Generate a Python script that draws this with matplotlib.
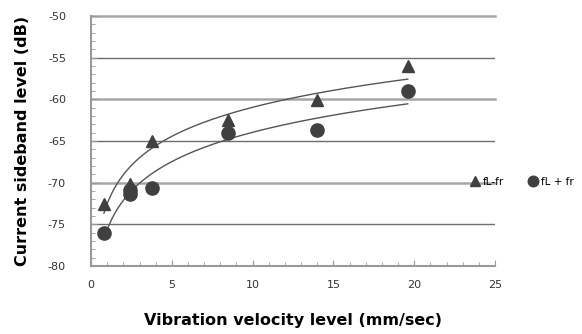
import numpy as np
import matplotlib
matplotlib.use("Agg")
import matplotlib.pyplot as plt
from matplotlib.ticker import MultipleLocator

plt.rcParams["axes.unicode_minus"] = False

# data
x_lo = [0.8, 2.4, 3.8, 8.5, 14.0, 19.6]          # fL-fr
y_lo = [-72.5, -70.1, -65.0, -62.5, -60.1, -56.0]
x_hi = [0.8, 2.4, 2.4, 3.8, 8.5, 14.0, 19.6]     # fL + fr
y_hi = [-76.0, -70.9, -71.4, -70.6, -64.0, -63.7, -59.0]

mk_col = "#404040"

fig = plt.figure(figsize=(5.82, 3.34), dpi=100)
ax = fig.add_axes([0.1564, 0.2036, 0.6941, 0.7484])

# logarithmic trendlines (least squares in ln x)
for xs, ys in [(x_lo, y_lo), (x_hi, y_hi)]:
    a, b = np.polyfit(np.log(xs), ys, 1)
    xx = np.linspace(min(xs), max(xs), 200)
    ax.plot(xx, a * np.log(xx) + b, color="#555555", lw=1.0, zorder=3)

h1, = ax.plot(x_lo, y_lo, "^", color=mk_col, ms=9, ls="none", zorder=4, label="fL-fr")
h2, = ax.plot(x_hi, y_hi, "o", color=mk_col, ms=9.5, ls="none", zorder=4, label="fL + fr")

ax.set_xlim(0, 25)
ax.set_ylim(-80, -50)
ax.xaxis.set_major_locator(MultipleLocator(5))
ax.xaxis.set_minor_locator(MultipleLocator(1))
ax.yaxis.set_major_locator(MultipleLocator(5))
ax.yaxis.set_minor_locator(MultipleLocator(1))

# gridlines: alternating light/dark as in the original
for yv in range(-75, -49, 5):
    if yv % 10 == 0:
        ax.axhline(yv, color="#a6a6a6", lw=1.8, zorder=1, clip_on=False)
    else:
        ax.axhline(yv, color="#6e6e6e", lw=1.0, zorder=1)

for s in ["top", "right"]:
    ax.spines[s].set_visible(False)
for s in ["left", "bottom"]:
    ax.spines[s].set_color("#999999")
    ax.spines[s].set_linewidth(1.5)

ax.tick_params(which="both", direction="in", color="#999999")
ax.tick_params(which="major", length=4, labelsize=8, labelcolor="#333333")
ax.tick_params(axis="y", which="major", pad=18)
ax.tick_params(axis="x", which="major", pad=10)
ax.tick_params(which="minor", length=3)

ax.set_ylabel("Current sideband level (dB)", fontsize=11.5, fontweight="bold", labelpad=13)
ax.set_xlabel("Vibration velocity level (mm/sec)", fontsize=11.5, fontweight="bold", labelpad=17)

fig.legend(handles=[h1, h2], loc="center left", bbox_to_anchor=(0.807, 0.456),
           ncol=2, frameon=False, fontsize=7.5, handlelength=1.0, handletextpad=0.3,
           columnspacing=2.2, borderaxespad=0, borderpad=0, markerscale=0.8)

fig.savefig("out.png", dpi=100)
